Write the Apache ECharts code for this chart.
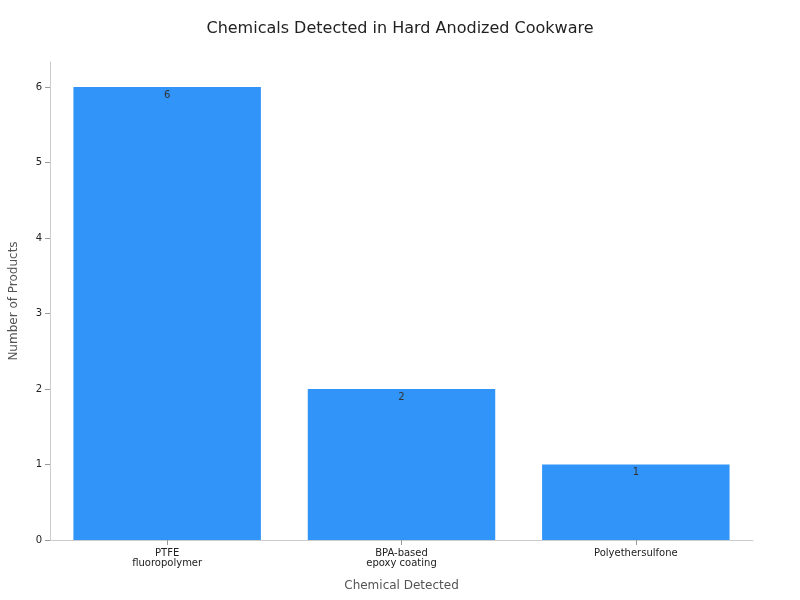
<!DOCTYPE html>
<html><head><meta charset="utf-8">
<script src="https://cdn.jsdelivr.net/npm/echarts@6/dist/echarts.min.js"></script>
<style>html,body{margin:0;padding:0;background:#fff}#c{width:800px;height:600px}</style>
</head><body><div id="c"></div>
<script>
const categories = ["PTFE\nfluoropolymer", "BPA-based\nepoxy coating", "Polyethersulfone"];
const values = [6, 2, 1];
const chart = echarts.init(document.getElementById('c'));
chart.setOption({
  textStyle:{fontFamily:'DejaVu Sans'},
  title:{text:'Chemicals Detected in Hard Anodized Cookware',left:'center',top:16,textStyle:{fontSize:16,fontWeight:'normal',color:'#222'}},
  grid:{left:47,right:47,top:62,bottom:60},
  xAxis:{type:'category',data:categories,name:'Chemical Detected',nameLocation:'middle',nameGap:40,
    nameTextStyle:{fontSize:12,color:'#555'},
    axisLine:{lineStyle:{color:'#ccc'}},axisTick:{show:true,alignWithLabel:true,lineStyle:{color:'#999'}},
    axisLabel:{color:'#222',fontSize:10}},
  yAxis:{type:'value',min:0,max:6.33,interval:1,name:'Number of Products',nameLocation:'middle',nameGap:30,
    nameTextStyle:{fontSize:12,color:'#555'},
    axisLine:{show:true,lineStyle:{color:'#ccc'}},axisTick:{show:true,lineStyle:{color:'#999'}},
    axisLabel:{color:'#222',fontSize:10,showMaxLabel:false},splitLine:{show:false}},
  series:[{type:'bar',data:values,barCategoryGap:'20%',itemStyle:{color:'#3094f8'},
    label:{show:true,position:'insideTop',color:'#333',fontSize:10,offset:[0,-2]}}]
});
</script></body></html>
